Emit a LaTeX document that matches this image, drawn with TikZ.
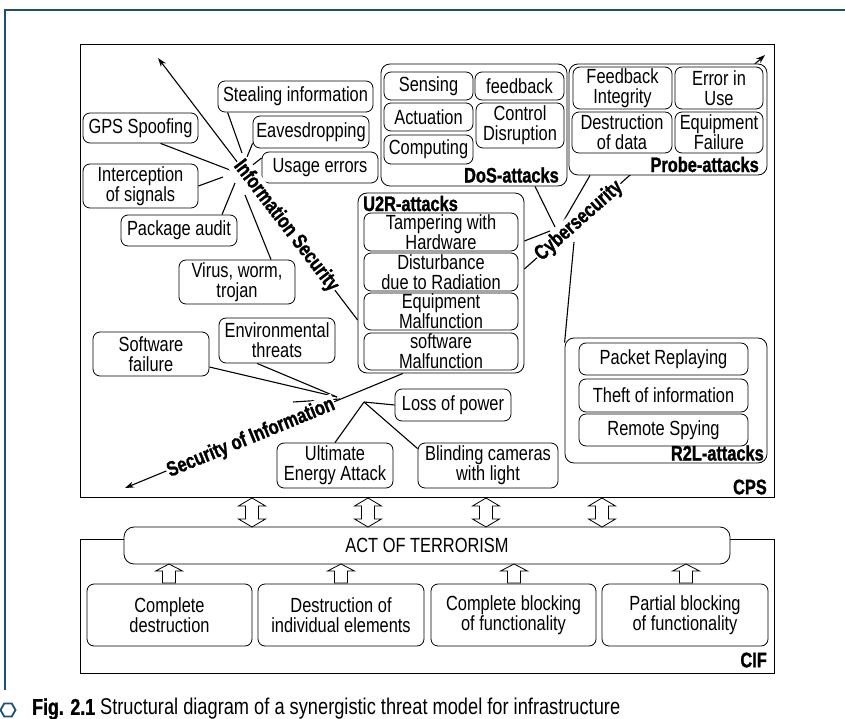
\documentclass[tikz,border=0pt]{standalone}
\usepackage{fontspec}
\setmainfont{Liberation Sans}[FakeStretch=0.8]
\newfontfamily\heavyfont{Liberation Sans Bold}[FakeStretch=0.78, FakeBold=1.2]
\usetikzlibrary{shapes.geometric,arrows.meta}
\definecolor{frameblue}{RGB}{30,80,115}
\pgfdeclarelayer{background}
\pgfsetlayers{background,main}
\begin{document}
\begin{tikzpicture}[x=1pt,y=-1pt,
  box/.style={draw, rounded corners=7pt, fill=white, align=center, inner sep=0pt,
    font=\fontsize{20.5}{20}\selectfont, line width=0.8pt},
  grp/.style={draw, rounded corners=9pt, fill=white, inner sep=0pt, line width=0.8pt},
  lbl/.style={font=\heavyfont\fontsize{21}{21}\selectfont, inner sep=0pt},
  axlbl/.style={font=\heavyfont\fontsize{21}{21}\selectfont, inner sep=1pt, fill=white},
  conn/.style={line width=1.1pt},
  axarrow/.style={line width=1.1pt, -{Stealth[length=9pt,width=6pt]}},
  frame/.style={draw, line width=0.9pt, inner sep=0pt},
  dblarrow/.pic={\draw[line width=0.8pt, fill=white] (0,-14.5) -- (13.5,-6.5) -- (6.5,-6.5) -- (6.5,6.5) -- (13.5,6.5) -- (0,14.5) -- (-13.5,6.5) -- (-6.5,6.5) -- (-6.5,-6.5) -- (-13.5,-6.5) -- cycle;},
  uparrow/.pic={\draw[line width=0.8pt, fill=white] (0,-9.5) -- (13.5,-2.5) -- (6.5,-2.5) -- (6.5,9.5) -- (-6.5,9.5) -- (-6.5,-2.5) -- (-13.5,-2.5) -- cycle;},
]
\useasboundingbox (0,0) rectangle (845,719);

% outer page frame and caption
\coordinate (fr1) at (845,10);
\coordinate (fr2) at (5,10);
\coordinate (fr3) at (5,690);
\draw[frameblue, line width=2.2pt] (fr1) -- (fr2) -- (fr3);
\node[regular polygon, regular polygon sides=6, draw=frameblue, line width=1.8pt, minimum size=15pt, inner sep=0pt] (hex) at (8,710) {};
\node[anchor=west, inner sep=0pt, font=\fontsize{22.8}{23}\selectfont] (cap) at (32,709)
  {{\heavyfont\fontsize{22.8}{23}\selectfont Fig. 2.1} Structural diagram of a synergistic threat model for infrastructure};

% CPS and CIF frames
\node[frame, minimum width=694pt, minimum height=453pt] (cps) at (427,270.5) {};
\node[frame, minimum width=694pt, minimum height=134pt] (cif) at (427,606) {};
\node[lbl, anchor=east] (cpslbl) at (767,487) {CPS};
\node[lbl, anchor=east] (ciflbl) at (767,660) {CIF};

% Information security group
\node[box, minimum width=155pt, minimum height=31pt] (steal) at (295.5,96.5) {Stealing information};
\node[box, minimum width=116pt, minimum height=32pt] (eaves) at (311,132) {Eavesdropping};
\node[box, minimum width=116pt, minimum height=31pt] (usage) at (320,167.5) {Usage errors};
\node[box, minimum width=115pt, minimum height=30pt] (gps) at (140.5,128) {GPS Spoofing};
\node[box, minimum width=115pt, minimum height=44pt] (interc) at (140.5,186) {Interception\\of signals};
\node[box, minimum width=116pt, minimum height=31pt] (pkg) at (179,230.5) {Package audit};
\node[box, minimum width=116pt, minimum height=44pt] (virus) at (237,282) {Virus, worm,\\trojan};

% DoS
\node[grp, minimum width=186pt, minimum height=122pt] (dos) at (474,125) {};
\node[box, minimum width=89pt, minimum height=28pt] (sensing) at (428.5,86) {Sensing};
\node[box, minimum width=89pt, minimum height=28pt] (feedback) at (519.5,86) {feedback};
\node[box, minimum width=89pt, minimum height=28pt] (actuation) at (428.5,117) {Actuation};
\node[box, minimum width=88pt, minimum height=45pt] (control) at (520,125.5) {Control\\Disruption};
\node[box, minimum width=89pt, minimum height=29pt] (computing) at (428.5,149.5) {Computing};
\node[lbl, anchor=east] (doslbl) at (559,175) {DoS-attacks};

% Probe
\node[grp, minimum width=198pt, minimum height=111pt] (probe) at (668,119.5) {};
\node[box, minimum width=99pt, minimum height=42pt] (fbint) at (622.5,88) {Feedback\\Integrity};
\node[box, minimum width=88pt, minimum height=42pt] (erruse) at (719,88) {Error in\\Use};
\node[box, minimum width=100pt, minimum height=41pt] (destr) at (622,132.5) {Destruction\\of data};
\node[box, minimum width=88pt, minimum height=41pt] (equip) at (719,132.5) {Equipment\\Failure};
\node[lbl, anchor=east] (problbl) at (759,164.5) {Probe-attacks};

% U2R
\node[grp, minimum width=166pt, minimum height=180pt] (u2r) at (441,283) {};
\node[lbl, anchor=west] (u2rlbl) at (363,203.5) {U2R-attacks};
\node[box, minimum width=154pt, minimum height=38pt] (tamper) at (441,232) {Tampering with\\Hardware};
\node[box, minimum width=154pt, minimum height=38pt] (disturb) at (441,272) {Disturbance\\due to Radiation};
\node[box, minimum width=154pt, minimum height=37pt] (equipmal) at (441,311.5) {Equipment\\Malfunction};
\node[box, minimum width=154pt, minimum height=37pt] (softmal) at (441,351.5) {software\\Malfunction};

% Security of information group
\node[box, minimum width=116pt, minimum height=44pt] (softfail) at (151,354) {Software\\failure};
\node[box, minimum width=116pt, minimum height=45pt] (env) at (277,340.5) {Environmental\\threats};
\node[box, minimum width=116pt, minimum height=32pt] (loss) at (453,405) {Loss of power};
\node[box, minimum width=116pt, minimum height=45pt] (ultimate) at (335,465.5) {Ultimate\\Energy Attack};
\node[box, minimum width=140pt, minimum height=45pt] (blind) at (488,465.5) {Blinding cameras\\with light};

% R2L
\node[grp, minimum width=202pt, minimum height=125pt] (r2l) at (666,400.5) {};
\node[box, minimum width=169pt, minimum height=32pt] (packet) at (663.5,359) {Packet Replaying};
\node[box, minimum width=169pt, minimum height=33pt] (theft) at (663.5,395.5) {Theft of information};
\node[box, minimum width=169pt, minimum height=32pt] (remote) at (663.5,430) {Remote Spying};
\node[lbl, anchor=east] (r2llbl) at (764,453) {R2L-attacks};

% axis labels
\node[axlbl, rotate=-52.6] (isec) at (286,226) {Information Security};
\node[axlbl, rotate=41.6] (cyber) at (579,221) {Cybersecurity};
\node[axlbl, rotate=22.3] (soi) at (251,438) {Security of Information};

% Act of terrorism and effects
\node[box, rounded corners=10pt, minimum width=606pt, minimum height=37pt] (act) at (427,545.5) {ACT OF TERRORISM};
\node[box, minimum width=165pt, minimum height=62pt] (cd) at (169.5,615) {Complete\\destruction};
\node[box, minimum width=166pt, minimum height=62pt] (die) at (341,615) {Destruction of\\individual elements};
\node[box, minimum width=165pt, minimum height=62pt] (cbf) at (513.5,615) {Complete blocking\\of functionality};
\node[box, minimum width=166pt, minimum height=62pt] (pbf) at (685,615) {Partial blocking\\of functionality};

\foreach \x in {252,368,486,602} \pic at (\x,512.5) {dblarrow};
\foreach \x in {169,341,514,686} \pic at (\x,573.5) {uparrow};

% free ends
\coordinate (isTip) at (158,58);
\coordinate (cyTip) at (765,55);
\coordinate (soTip) at (125,488);
\coordinate (h1) at (242,153);
\coordinate (h2) at (247,157);
\coordinate (h3) at (250,167);
\coordinate (h4) at (230,170);
\coordinate (h5) at (223,177);
\coordinate (h6) at (235,183);
\coordinate (h7) at (245,195);
\coordinate (c1) at (555,227);
\coordinate (c2) at (563,222);
\coordinate (c3) at (550,231);
\coordinate (c4) at (574,242);
\coordinate (s1) at (337,397);
\coordinate (s2) at (364,402);
\coordinate (s3a) at (293,402);
\coordinate (s3b) at (340,399);

\begin{pgfonlayer}{background}
\draw[axarrow] ([yshift=-37pt]u2r.west) -- (isTip);
\draw[axarrow] ([yshift=14pt]u2r.east) -- (cyTip);
\draw[axarrow] ([xshift=-38pt]u2r.south) -- (soTip);
% information security hub
\draw[conn] ([xshift=10pt]steal.south west) -- (h1);
\draw[conn] ([yshift=5pt]eaves.south west) -- (h2);
\draw[conn] ([yshift=9.5pt]usage.west) -- (h3);
\draw[conn] ([xshift=20pt]gps.south) -- (h4);
\draw[conn] (interc.east) -- (h5);
\draw[conn] ([xshift=43pt]pkg.north) -- (h6);
\draw[conn] ([xshift=34pt]virus.north) -- (h7);
% cybersecurity hub
\draw[conn] ([xshift=61pt]dos.south) -- (c1);
\draw[conn] ([xshift=-78pt]probe.south) -- (c2);
\draw[conn] ([yshift=42pt]u2r.east) -- (c3);
\draw[conn] ([yshift=-5pt]r2l.north west) -- (c4);
% security of information hub
\draw[conn] ([yshift=-13pt]softfail.east) -- (s1);
\draw[conn] ([xshift=-20pt]env.south) -- (s1);
\draw[conn] (s3a) -- (s3b);
\draw[conn] (ultimate.north) -- (s2);
\draw[conn] (loss.west) -- (s2);
\draw[conn] ([yshift=-6pt]blind.north west) -- (s2);
\end{pgfonlayer}
\end{tikzpicture}
\end{document}
